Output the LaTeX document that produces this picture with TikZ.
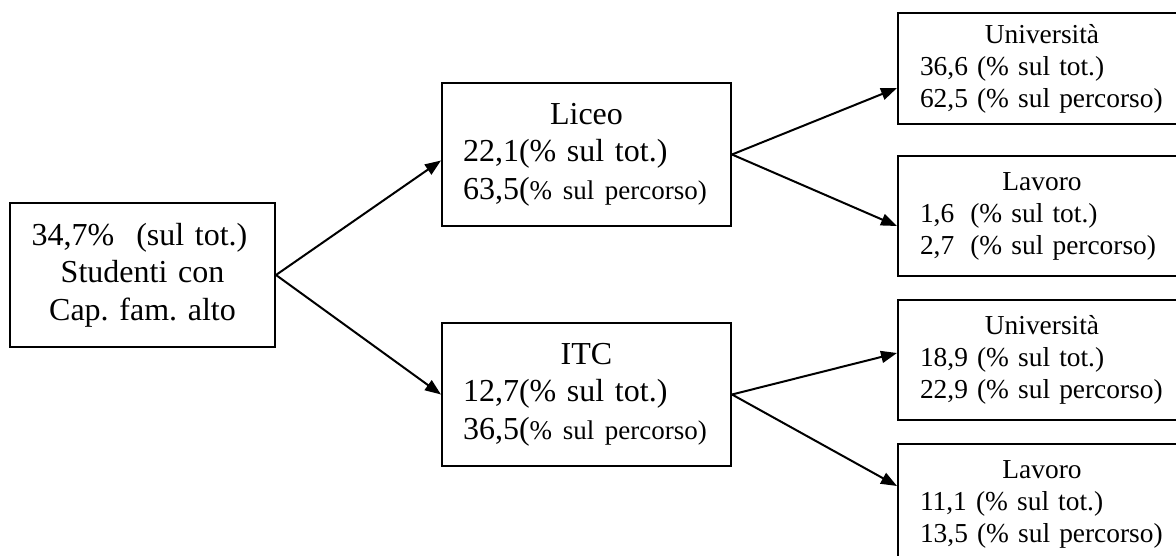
\documentclass[tikz,border=0pt]{standalone}
\usepackage{fontspec}
\setmainfont{Liberation Serif}
\usetikzlibrary{arrows.meta}
\frenchspacing

\tikzset{
  box/.style={draw, line width=2pt, rectangle, inner ysep=0pt, anchor=north west},
  bigtext/.style={font=\fontsize{32}{37.5}\selectfont},
  smalltext/.style={font=\fontsize{27.4}{32}\selectfont},
  midbox/.style={box, bigtext, align=left, inner xsep=21pt, text width=247pt, minimum height=143pt},
  endbox/.style={box, smalltext, align=left, inner xsep=22pt, text width=244pt, minimum height=120pt},
  link/.style={line width=2pt, -{Triangle[length=16pt,width=12pt]}}
}
\newcommand{\smallpart}[1]{{\fontsize{27}{37.5}\selectfont #1}}

\begin{document}
\begin{tikzpicture}[x=1pt,y=-1pt]
  \useasboundingbox (0,0) rectangle (1176,556);
  \clip (0,0) rectangle (1176,556);

  % starting group
  \node[box, bigtext, align=center, inner xsep=0pt, text width=265pt, minimum height=144pt] (start) at (9,202)
    {34,7\%\hspace{22pt}(sul tot.)\hspace*{6pt}\mbox{}\\Studenti con\\Cap. fam. alto};

  % school type
  \node[midbox] (liceo) at (441,82)
    {\makebox[247pt]{Liceo}\\22,1(\% sul tot.)\\63,5(\smallpart{\% sul percorso)}};
  \node[midbox] (itc) at (441,322)
    {\makebox[247pt]{ITC}\\12,7(\% sul tot.)\\36,5(\smallpart{\% sul percorso)}};

  % outcomes
  \node[endbox, minimum height=111pt] (uni1) at (897,12)
    {\makebox[244pt]{Università}\\36,6 (\% sul tot.)\\62,5 (\% sul percorso)};
  \node[endbox] (lav1) at (897,155)
    {\makebox[244pt]{Lavoro}\\1,6\hspace{7pt} (\% sul tot.)\\2,7\hspace{7pt} (\% sul percorso)};
  \node[endbox] (uni2) at (897,299)
    {\makebox[244pt]{Università}\\18,9 (\% sul tot.)\\22,9 (\% sul percorso)};
  \node[endbox] (lav2) at (897,443)
    {\makebox[244pt]{Lavoro}\\11,1 (\% sul tot.)\\13,5 (\% sul percorso)};

  % branches
  \draw[link] (start.east) -- ([yshift=-6pt]liceo.west);
  \draw[link] (start.east) -- (itc.west);
  \draw[link] (liceo.east) -- ([yshift=-19.5pt]uni1.west);
  \draw[link] (liceo.east) -- ([yshift=-10pt]lav1.west);
  \draw[link] (itc.east) -- ([yshift=7pt]uni2.west);
  \draw[link] (itc.east) -- ([yshift=18pt]lav2.west);
\end{tikzpicture}
\end{document}
